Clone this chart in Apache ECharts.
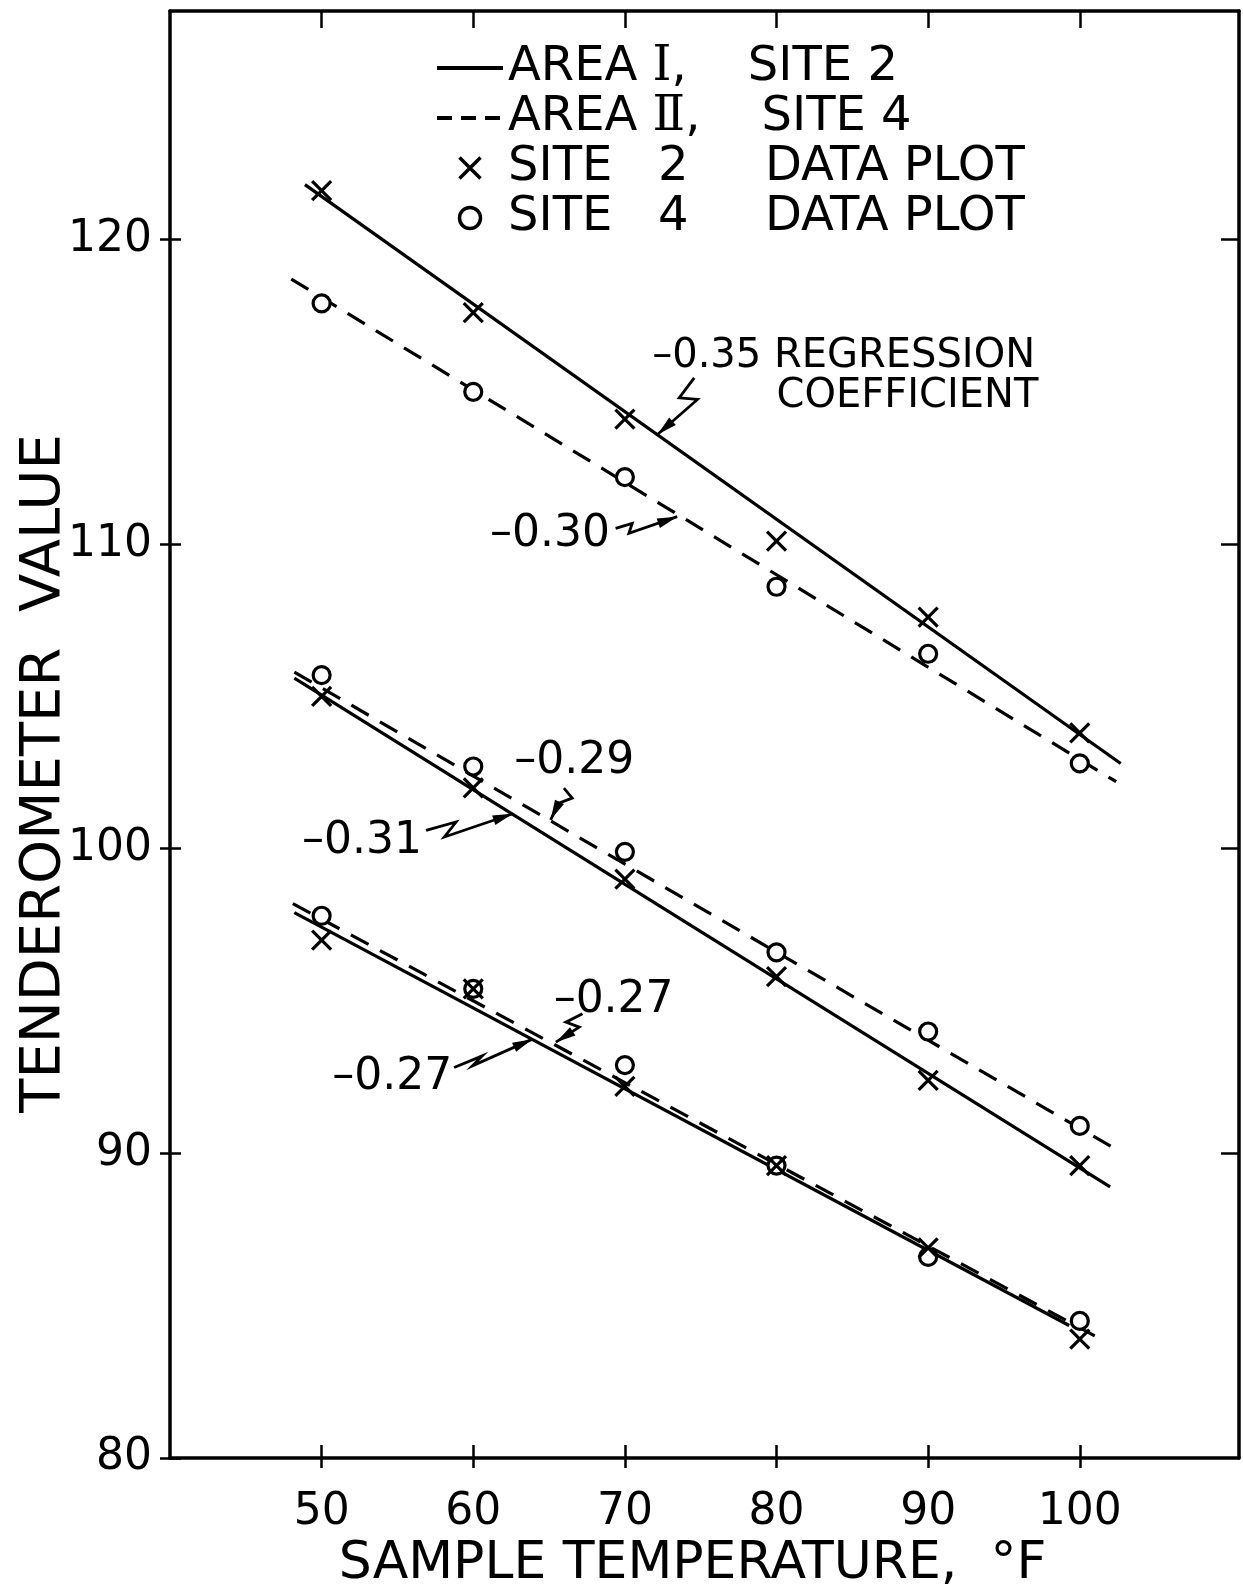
<!DOCTYPE html>
<html>
<head>
<meta charset="utf-8">
<title>Tenderometer value vs sample temperature</title>
<script src="https://cdn.jsdelivr.net/npm/echarts@6/dist/echarts.min.js"></script>
<style>
  html, body { margin: 0; padding: 0; background: #fff; }
  #main { width: 1243px; height: 1587px; }
</style>
</head>
<body>
<div id="main"></div>
<script>
// sample temperatures (°F) and tick values
var temps = [50, 60, 70, 80, 90, 100];
var xTicks = [50, 60, 70, 80, 90, 100];
var yTicks = [80, 90, 100, 110, 120];
var yTicksRight = [90, 100, 110, 120];

// data plots
var site2A = [121.6, 117.6, 114.1, 110.1, 107.6, 103.8];
var site4A = [117.9, 115.0, 112.2, 108.6, 106.4, 102.8];
var site2B = [105.0, 102.0, 99.0, 95.8, 92.4, 89.6];
var site4B = [105.7, 102.7, 99.9, 96.6, 94.0, 90.9];
var site2C = [97.0, 95.4, 92.2, 89.6, 86.9, 83.9];
var site4C = [97.8, 95.4, 92.9, 89.6, 86.6, 84.5];

// regression lines, end points [temp, value]
var lineA1 = [[48.9, 121.8], [102.7, 102.8]];
var lineA2 = [[48.0, 118.7], [102.4, 102.2]];
var lineB1 = [[48.2, 105.6], [102.0, 88.9]];
var lineB2 = [[48.2, 105.8], [102.5, 90.1]];
var lineC1 = [[48.2, 97.9], [99.3, 84.35]];
var lineC2 = [[48.1, 98.2], [101.4, 83.9]];

// coefficient notes (left edge / middle, in data units)
var noteTexts = ['–0.35 REGRESSION', 'COEFFICIENT', '–0.30', '–0.29', '–0.31', '–0.27', '–0.27'];
var noteX = [71.8, 80.0, 61.1, 62.7, 48.7, 65.3, 50.7];
var noteY = [116.15, 114.85, 110.3, 102.85, 100.25, 95.0, 92.5];

// arrow tips on the lines (data units)
var tipX = [72.15, 73.45, 65.1, 62.6, 65.45, 63.9];
var tipY = [113.6, 110.9, 100.95, 101.15, 93.65, 93.75];

var NAME_I = 'AREA I, SITE 2';
var NAME_II = 'AREA II, SITE 4';
var NAME_X = 'SITE 2 DATA PLOT';
var NAME_O = 'SITE 4 DATA PLOT';
var legendLabels = {};
legendLabels[NAME_I] = 'AREA {r|Ⅰ},    SITE 2';
legendLabels[NAME_II] = 'AREA {r|Ⅱ},    SITE 4';
legendLabels[NAME_X] = 'SITE   2     DATA PLOT';
legendLabels[NAME_O] = 'SITE   4     DATA PLOT';

var FONT = 'DejaVu Sans';
var X_SYMBOL = 'path://M0,0L10,10M10,0L0,10';

var chart = echarts.init(document.getElementById('main'));

function pairs(arr) {
    return temps.map(function (t, i) { return [t, arr[i]]; });
}

function lineSeries(name, data, dashed) {
    return {
        name: name,
        type: 'line',
        data: data,
        symbol: 'none',
        silent: true,
        z: 2,
        itemStyle: { color: '#000' },
        lineStyle: { color: '#000', width: 3.2, type: dashed ? [20, 13] : 'solid' }
    };
}

function xSeries(data) {
    return {
        name: NAME_X,
        type: 'scatter',
        data: pairs(data),
        symbol: X_SYMBOL,
        symbolSize: 19,
        silent: true,
        z: 4,
        itemStyle: { color: 'transparent', borderColor: '#000', borderWidth: 3.2, opacity: 1 }
    };
}

function oSeries(data) {
    return {
        name: NAME_O,
        type: 'scatter',
        data: pairs(data),
        symbol: 'circle',
        symbolSize: 17,
        silent: true,
        z: 3,
        itemStyle: { color: '#fff', borderColor: '#000', borderWidth: 3.2, opacity: 1 }
    };
}

var axisLine = { onZero: false, lineStyle: { color: '#000', width: 3.5 } };
var tickStyle = { color: '#000', width: 2.5 };

var option = {
    backgroundColor: '#fff',
    animation: false,
    grid: { left: 170, right: 4, top: 11, bottom: 129, outerBoundsMode: 'none' },
    legend: {
        left: 430,
        top: 38,
        orient: 'vertical',
        itemGap: 0,
        itemWidth: 66,
        itemHeight: 21,
        selectedMode: false,
        formatter: function (name) { return legendLabels[name]; },
        textStyle: {
            fontFamily: FONT, fontSize: 48, color: '#000', lineHeight: 50,
            rich: { r: { fontFamily: 'DejaVu Serif', fontSize: 48, color: '#000', lineHeight: 50 } }
        },
        data: [
            { name: NAME_I, lineStyle: { width: 4 }, itemStyle: { opacity: 0 } },
            { name: NAME_II, lineStyle: { width: 4, type: [15, 9] }, itemStyle: { opacity: 0 } },
            { name: NAME_X, itemStyle: { borderWidth: 3.5, borderColor: '#000' } },
            { name: NAME_O, itemStyle: { borderWidth: 3.5, borderColor: '#000' } }
        ]
    },
    xAxis: [
        {
            type: 'value', min: 40, max: 110.5, position: 'bottom',
            axisLine: axisLine,
            axisTick: { customValues: xTicks, length: 10, lineStyle: tickStyle },
            axisLabel: { customValues: xTicks, margin: 33, fontFamily: FONT, fontSize: 44, color: '#000' },
            splitLine: { show: false },
            name: 'SAMPLE TEMPERATURE,  °F',
            nameLocation: 'middle',
            nameGap: 80,
            nameMoveOverlap: false,
            nameTextStyle: { fontFamily: FONT, fontSize: 52, color: '#000', padding: [0, 24, 0, 0] }
        },
        {
            type: 'value', min: 40, max: 110.5, position: 'bottom',
            axisLine: { show: false },
            axisTick: { inside: true, customValues: xTicks, length: 13, lineStyle: tickStyle },
            axisLabel: { show: false },
            splitLine: { show: false }
        },
        {
            type: 'value', min: 40, max: 110.5, position: 'top',
            axisLine: axisLine,
            axisTick: { inside: true, customValues: xTicks, length: 17, lineStyle: tickStyle },
            axisLabel: { show: false },
            splitLine: { show: false }
        }
    ],
    yAxis: [
        {
            type: 'value', min: 80, max: 127.5, position: 'left',
            axisLine: axisLine,
            axisTick: { customValues: yTicks, length: 10, lineStyle: tickStyle },
            axisLabel: { customValues: yTicks, margin: 18, fontFamily: FONT, fontSize: 44, color: '#000' },
            splitLine: { show: false },
            name: 'TENDEROMETER  VALUE',
            nameLocation: 'middle',
            nameGap: 98,
            nameMoveOverlap: false,
            nameTextStyle: { fontFamily: FONT, fontSize: 56, color: '#000', padding: [0, 78, 0, 0] }
        },
        {
            type: 'value', min: 80, max: 127.5, position: 'left',
            axisLine: { show: false },
            axisTick: { inside: true, customValues: yTicks, length: 11, lineStyle: tickStyle },
            axisLabel: { show: false },
            splitLine: { show: false }
        },
        {
            type: 'value', min: 80, max: 127.5, position: 'right',
            axisLine: axisLine,
            axisTick: { inside: true, customValues: yTicksRight, length: 18, lineStyle: tickStyle },
            axisLabel: { show: false },
            splitLine: { show: false }
        }
    ],
    series: [
        lineSeries(NAME_I, lineA1, false),
        lineSeries(NAME_II, lineA2, true),
        lineSeries(NAME_I, lineB1, false),
        lineSeries(NAME_II, lineB2, true),
        lineSeries(NAME_I, lineC1, false),
        lineSeries(NAME_II, lineC2, true),
        oSeries(site4A),
        oSeries(site4B),
        oSeries(site4C),
        xSeries(site2A),
        xSeries(site2B),
        xSeries(site2C)
    ]
};

chart.setOption(option);

// squiggle arrows: bend points relative to the tip, in pixels
var squiggles = [
    [[36.7, -56.6], [21.7, -36.6], [40, -35]],
    [[-61.6, 11.6], [-45, 6.6], [-48.3, 16.6]],
    [[13.3, -31.7], [21.6, -21.7], [8.3, -16.7]],
    [[-86.6, 16.7], [-56.6, 8.3], [-68.3, 23.3]],
    [[26.6, -28.4], [10, -20], [23.3, -15]],
    [[-78.3, 28.4], [-50, 16.7], [-60, 26.7]]
];

function drawNotes() {
    var g = [];
    var toPx = function (x, y) {
        return chart.convertToPixel({ xAxisIndex: 0, yAxisIndex: 0 }, [x, y]);
    };
    noteTexts.forEach(function (t, i) {
        var p = toPx(noteX[i], noteY[i]);
        g.push({
            type: 'text', x: p[0], y: p[1], silent: true,
            style: {
                text: t, fill: '#000', verticalAlign: 'middle',
                font: (i < 2 ? 40 : 44) + 'px "' + FONT + '"'
            }
        });
    });
    tipX.forEach(function (tx, i) {
        var tip = toPx(tx, tipY[i]);
        var pts = squiggles[i].map(function (d) { return [tip[0] + d[0], tip[1] + d[1]]; });
        pts.push(tip);
        g.push({
            type: 'polyline', silent: true,
            shape: { points: pts },
            style: { stroke: '#000', lineWidth: 2.8, fill: null }
        });
        // arrow head along the last leg
        var prev = pts[pts.length - 2];
        var dx = tip[0] - prev[0], dy = tip[1] - prev[1];
        var len = Math.sqrt(dx * dx + dy * dy);
        var ux = dx / len, uy = dy / len;
        var bx = tip[0] - ux * 20, by = tip[1] - uy * 20;
        g.push({
            type: 'polygon', silent: true,
            shape: { points: [tip, [bx - uy * 5, by + ux * 5], [bx + uy * 5, by - ux * 5]] },
            style: { fill: '#000' }
        });
    });
    chart.setOption({ graphic: g });
}

drawNotes();
</script>
</body>
</html>
